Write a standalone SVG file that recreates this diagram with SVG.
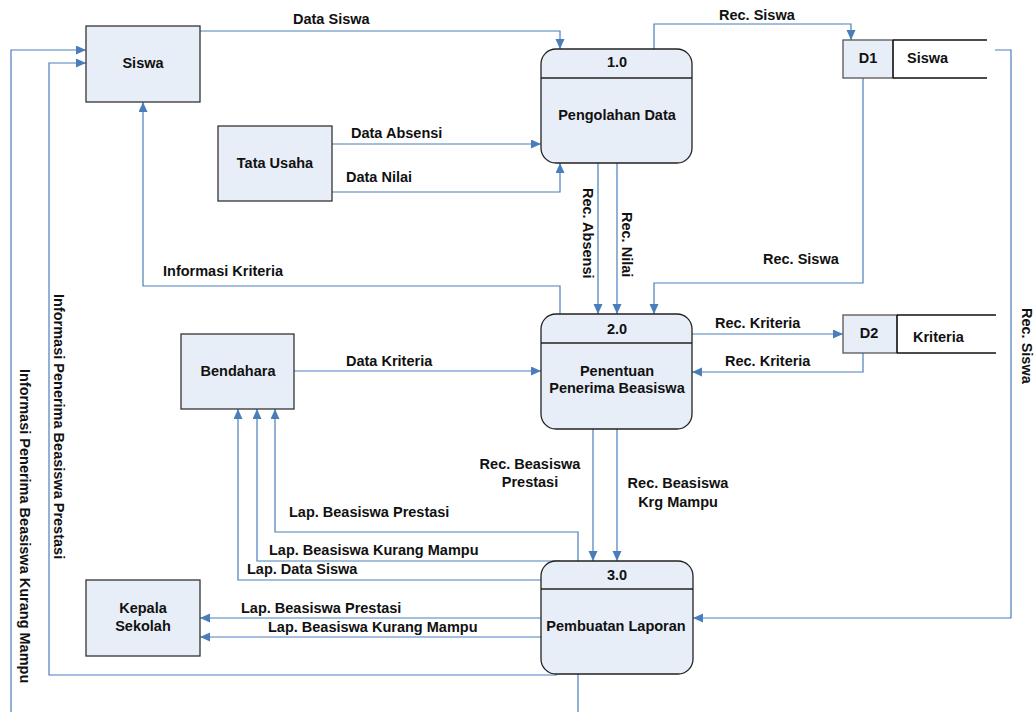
<svg xmlns="http://www.w3.org/2000/svg" width="1036" height="712" viewBox="0 0 1036 712">
<defs>
<marker id="arr" markerWidth="11" markerHeight="10" refX="10" refY="4.5" orient="auto" markerUnits="userSpaceOnUse">
<path d="M0,0 L10,4.5 L0,9 z" fill="#4a7ebb"/>
</marker>
<style>
.ent{fill:#e8eef7;stroke:#333;stroke-width:1.3}
.proc{fill:#e8eef7;stroke:#222;stroke-width:1.3}
.div{stroke:#222;stroke-width:1.3}
.ds{fill:#e8eef7;stroke:#555;stroke-width:1.3}
.dsl{stroke:#111;stroke-width:1.3;fill:none}
.c{fill:none;stroke:#4a7ebb;stroke-width:1.2}
.ca{fill:none;stroke:#4a7ebb;stroke-width:1.2;marker-end:url(#arr)}
text{font-family:"Liberation Sans",Arial,sans-serif;font-weight:bold;font-size:14.5px;fill:#111}
.m{text-anchor:middle}
</style>
</defs>
<rect width="1036" height="712" fill="#fff"/>

<g id="connectors">
<path class="ca" d="M200,31 H560 V49"/>
<path class="ca" d="M654,49 V24 H851 V40"/>
<path class="ca" d="M332,144 H541"/>
<path class="ca" d="M332,192 H560 V163"/>
<path class="ca" d="M598,163 V314"/>
<path class="ca" d="M617,163 V314"/>
<path class="ca" d="M863,78 V283 H654 V314"/>
<path class="ca" d="M560,314 V286 H143 V102"/>
<path class="ca" d="M294,371 H541"/>
<path class="ca" d="M692,334 H843"/>
<path class="ca" d="M863,353 V372 H692"/>
<path class="ca" d="M995,50 H1011 V618 H693"/>
<path class="ca" d="M593,429 V561"/>
<path class="ca" d="M617,429 V561"/>
<path class="ca" d="M578,561 V532 H275 V409"/>
<path class="ca" d="M560,561 H257 V409"/>
<path class="ca" d="M541,580 H238 V409"/>
<path class="ca" d="M541,618 H200"/>
<path class="ca" d="M541,637 H200"/>
<path class="ca" d="M557,675 H49 V63 H86"/>
<path class="c" d="M578,674 V712"/>
<path class="ca" d="M11,712 V50 H86"/>
</g>

<g id="siswa"><rect class="ent" x="86" y="26" width="114" height="76"/><text class="m" x="143" y="68">Siswa</text></g>
<g id="tata-usaha"><rect class="ent" x="218" y="126" width="114" height="75"/><text class="m" x="275" y="168">Tata Usaha</text></g>
<g id="bendahara"><rect class="ent" x="181" y="334" width="113" height="75"/><text class="m" x="238" y="376">Bendahara</text></g>
<g id="kepala-sekolah"><rect class="ent" x="86" y="580" width="114" height="76"/><text class="m" x="143" y="613">Kepala</text><text class="m" x="143" y="631">Sekolah</text></g>

<g id="p1"><rect class="proc" x="541" y="49" width="151" height="114" rx="15"/><line class="div" x1="541" y1="78" x2="692" y2="78"/><text class="m" x="617" y="67">1.0</text><text class="m" x="617" y="120">Pengolahan Data</text></g>
<g id="p2"><rect class="proc" x="541" y="314" width="151" height="115" rx="15"/><line class="div" x1="541" y1="343" x2="692" y2="343"/><text class="m" x="617" y="334">2.0</text><text class="m" x="617" y="376">Penentuan</text><text class="m" x="617" y="393">Penerima Beasiswa</text></g>
<g id="p3"><rect class="proc" x="541" y="561" width="152" height="113" rx="15"/><line class="div" x1="541" y1="589" x2="693" y2="589"/><text class="m" x="617" y="580">3.0</text><text class="m" x="616" y="631">Pembuatan Laporan</text></g>

<g id="d1"><rect class="ds" x="843" y="40" width="50" height="38"/><path class="dsl" d="M893,40 H987 M893,78 H987 M893,40 V78"/><text class="m" x="868" y="63">D1</text><text x="907" y="63">Siswa</text></g>
<g id="d2"><rect class="ds" x="843" y="315" width="54" height="38"/><path class="dsl" d="M897,315 H996 M897,353 H996 M897,315 V353"/><text class="m" x="869" y="338">D2</text><text x="913" y="342">Kriteria</text></g>

<g id="labels">
<text x="293" y="24">Data Siswa</text>
<text x="719" y="20">Rec. Siswa</text>
<text x="351" y="138">Data Absensi</text>
<text x="346" y="182">Data Nilai</text>
<text x="163" y="276">Informasi Kriteria</text>
<text x="763" y="264">Rec. Siswa</text>
<text x="346" y="366">Data Kriteria</text>
<text x="715" y="328">Rec. Kriteria</text>
<text x="725" y="366">Rec. Kriteria</text>
<text class="m" x="530" y="469">Rec. Beasiswa</text>
<text class="m" x="530" y="487">Prestasi</text>
<text class="m" x="678" y="488">Rec. Beasiswa</text>
<text class="m" x="678" y="507">Krg Mampu</text>
<text x="289" y="517">Lap. Beasiswa Prestasi</text>
<text x="269" y="555">Lap. Beasiswa Kurang Mampu</text>
<text x="247" y="574">Lap. Data Siswa</text>
<text x="241" y="613">Lap. Beasiswa Prestasi</text>
<text x="268" y="632">Lap. Beasiswa Kurang Mampu</text>
<text transform="translate(583,188) rotate(90)">Rec. Absensi</text>
<text transform="translate(622,212) rotate(90)">Rec. Nilai</text>
<text transform="translate(1022,308) rotate(90)">Rec. Siswa</text>
<text transform="translate(54,294) rotate(90)">Informasi Penerima Beasiswa Prestasi</text>
<text transform="translate(19.5,369) rotate(90)">Informasi Penerima Beasiswa Kurang Mampu</text>
</g>
</svg>
